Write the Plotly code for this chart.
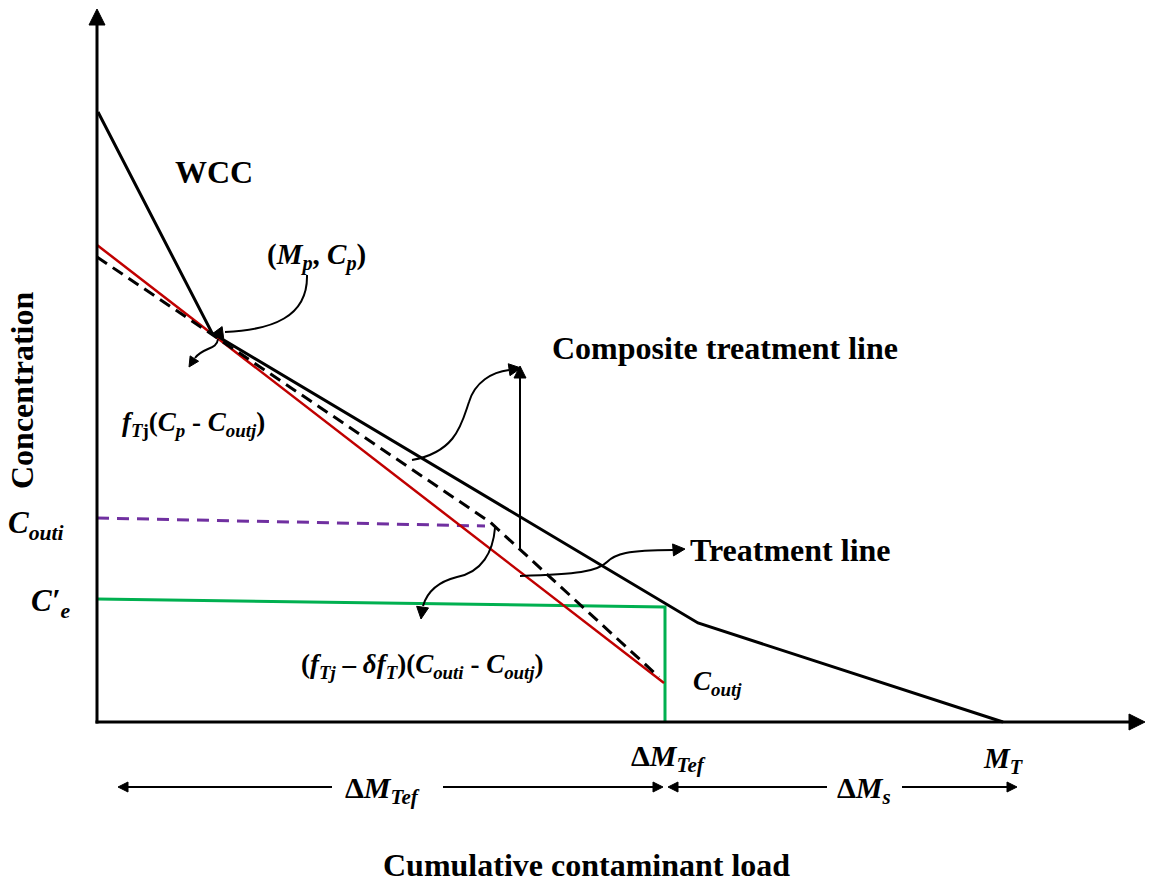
import math
import plotly.graph_objects as go

# ---- schematic data (diagram units: load on x, concentration on y) ----
wcc_load = [1, 115, 601, 906]
wcc_conc = [610, 389, 99, 0]
treat_load = [0, 567]
treat_conc = [477, 39]
comp_load = [0, 393, 562]
comp_conc = [465, 200, 45]
outi_load = [0, 388]
outi_conc = [204, 196]
ce_load = [0, 568, 568]
ce_conc = [123, 115, 0]

FONT = "Liberation Serif, Times New Roman, serif"

fig = go.Figure()
fig.add_trace(go.Scatter(x=ce_load, y=ce_conc, mode="lines",
                         line=dict(color="#00B050", width=3), hoverinfo="skip"))
fig.add_trace(go.Scatter(x=outi_load, y=outi_conc, mode="lines",
                         line=dict(color="#7030A0", width=3, dash="12px,8px"), hoverinfo="skip"))
fig.add_trace(go.Scatter(x=treat_load, y=treat_conc, mode="lines",
                         line=dict(color="#C00000", width=2.5), hoverinfo="skip"))
fig.add_trace(go.Scatter(x=comp_load, y=comp_conc, mode="lines",
                         line=dict(color="black", width=3, dash="12px,7px"), hoverinfo="skip"))
fig.add_trace(go.Scatter(x=wcc_load, y=wcc_conc, mode="lines",
                         line=dict(color="black", width=3), hoverinfo="skip"))

shapes = []


def head(tip, frm, L=10, W=5):
    dx, dy = tip[0] - frm[0], tip[1] - frm[1]
    n = math.hypot(dx, dy)
    dx, dy = dx / n, dy / n
    bx, by = tip[0] - L * dx, tip[1] - L * dy
    px, py = -dy, dx
    p1 = (bx + W * px, by + W * py)
    p2 = (bx - W * px, by - W * py)
    return dict(type="path", xref="x", yref="y",
                path=f"M {tip[0]},{tip[1]} L {p1[0]},{p1[1]} L {p2[0]},{p2[1]} Z",
                fillcolor="black", line=dict(color="black", width=1))


def seg(x0, y0, x1, y1, w=2):
    return dict(type="line", xref="x", yref="y", x0=x0, y0=y0, x1=x1, y1=y1,
                line=dict(color="black", width=w))


def curve(p, w=2):
    return dict(type="path", xref="x", yref="y", path=p,
                line=dict(color="black", width=w))


# axes
shapes.append(seg(0, -1.5, 0, 700, 3))
shapes.append(head((0, 713), (0, 0), 16, 8))
shapes.append(seg(-1.5, 0, 1035, 0, 3))
shapes.append(head((1048, 0), (0, 0), 16, 8))

# curved pointer arrows
shapes.append(curve("M 210,447 C 211,405 175,392 128,390"))
shapes.append(head((115, 388), (130, 390), 11, 6))
shapes.append(curve("M 121,383 C 120,372 106,375 98,364"))
shapes.append(head((92, 355), (99, 366), 10, 5))
shapes.append(curve("M 315,262 C 360,270 365,300 372,320 C 378,340 395,350 412,352"))
shapes.append(head((424, 354), (410, 352), 12, 6))
shapes.append(seg(423, 172, 423, 345))
shapes.append(head((423, 356), (423, 172), 12, 6))
shapes.append(curve("M 423,146 C 480,148 500,150 510,160 C 518,168 530,172 576,172"))
shapes.append(head((588, 173), (575, 172), 12, 6))
shapes.append(curve("M 398,194 C 396,170 385,150 360,145 C 340,140 330,130 326,116"))
shapes.append(head((324, 103), (326, 118), 12, 6))

# dimension arrows
yd = -65
shapes.append(seg(27, yd, 235, yd))
shapes.append(head((21, yd), (40, yd), 10, 5))
shapes.append(seg(346, yd, 560, yd))
shapes.append(head((566, yd), (540, yd), 10, 5))
shapes.append(seg(577, yd, 730, yd))
shapes.append(head((571, yd), (590, yd), 10, 5))
shapes.append(seg(805, yd, 914, yd))
shapes.append(head((920, yd), (900, yd), 10, 5))

ann = []


def txt(x, y, t, size, angle=0):
    ann.append(dict(x=x, y=y, xref="x", yref="y", text=t, showarrow=False,
                    xanchor="center", yanchor="middle", textangle=angle,
                    font=dict(family=FONT, size=size, color="black")))


txt(117, 550, "<b>WCC</b>", 32)
txt(219, 466, "<b>(<i>M</i><sub><i>p</i></sub>, <i>C</i><sub><i>p</i></sub>)</b>", 29)
txt(96, 298, "<b><i>f</i><sub><i>T</i>j</sub>(<i>C</i><sub><i>p</i></sub> - <i>C</i><sub><i>outj</i></sub>)</b>", 27)
txt(-61, 197, "<b><i>C</i><sub><i>outi</i></sub></b>", 31)
txt(-47, 119, "<b><i>C′</i><sub><i>e</i></sub></b>", 31)
txt(-75, 332, "<b>Concentration</b>", 32, -90)
txt(628, 374, "<b>Composite treatment line</b>", 32)
txt(693, 172, "<b>Treatment line</b>", 32)
txt(325, 56, "<b>(<i>f</i><sub><i>Tj</i></sub> – <i>δf</i><sub><i>T</i></sub>)(<i>C</i><sub><i>outi</i></sub> - <i>C</i><sub><i>outj</i></sub>)</b>", 27)
txt(620, 39, "<b><i>C</i><sub><i>outj</i></sub></b>", 27)
txt(571, -36, "<b>Δ<i>M</i><sub><i>Tef</i></sub></b>", 30)
txt(906, -38, "<b><i>M</i><sub><i>T</i></sub></b>", 29)
txt(285, -68, "<b>Δ<i>M</i><sub><i>Tef</i></sub></b>", 30)
txt(767, -68, "<b>Δ<i>M</i><sub><i>s</i></sub></b>", 30)
txt(489, -143, "<b>Cumulative contaminant load</b>", 32)

fig.update_layout(
    width=1156, height=886, margin=dict(l=0, r=0, t=0, b=0),
    paper_bgcolor="white", plot_bgcolor="white", showlegend=False,
    xaxis=dict(range=[-97, 1059], visible=False, fixedrange=True),
    yaxis=dict(range=[-164, 722], visible=False, fixedrange=True),
    shapes=shapes, annotations=ann,
)

fig.write_html("out.html", config={"displayModeBar": False},
               post_script="document.body.style.margin='0';document.body.style.overflow='hidden';")
